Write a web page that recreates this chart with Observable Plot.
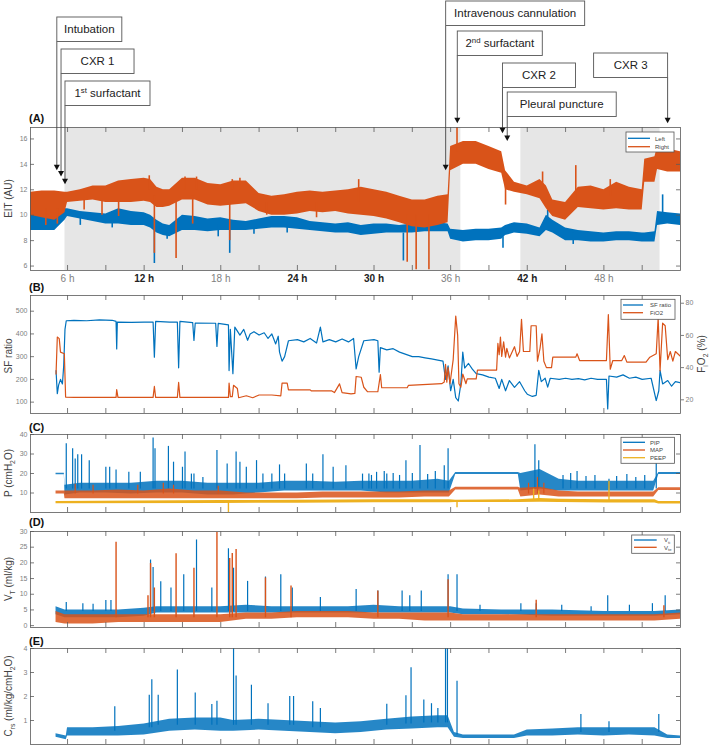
<!DOCTYPE html>
<html><head><meta charset="utf-8">
<script src="https://cdn.jsdelivr.net/npm/d3@7"></script>
<script src="https://cdn.jsdelivr.net/npm/@observablehq/plot@0.6"></script>
<style>
body{margin:0;background:#fff;font-family:"Liberation Sans",Arial,Helvetica,sans-serif}
#wrap{position:relative;width:709px;height:746px;overflow:hidden;background:#fff}
</style></head><body><div id="wrap"></div>
<script>
// ---------------- DATA ----------------
// Panel A: EIT (AU) envelopes per hour
const tA = [3.1,4,5,5.8,6,7,8,9,10,11,12,12.5,13,13.5,14,15,16,17,18,19,20,21,22,23,24,25,26,27,28,29,30,31,32,33,34,35,35.8,36,37,38,39,40,40.3,41,42,43,43.5,44,45,46,47,48,49,50,51,51.2,52,52.2,53,54];
const rightLo = [10.0,9.8,9.6,10.2,11.0,11.1,11.2,11.0,11.0,11.0, 11.1,11.0,10.6,10.6,10.7,11.2,11.2,10.8,10.7,10.8, 10.9,10.3,10.0,10.0,10.1,10.3,10.2,10.3,10.1,10.0, 9.9,9.7,9.4,9.1,9.0,9.2,9.4,13.5,14.0,14.0, 13.6,13.3,12.0,11.8,11.6,11.3,10.5,9.9,9.6,10.6, 10.5,10.4,10.5,10.4,10.4,12.6,12.6,13.6,13.4,13.4];
const rightHi = [11.8,11.9,11.9,11.8,11.8,12.0,12.3,12.3,12.7,12.8, 12.9,12.8,12.2,12.0,12.0,12.9,12.9,12.5,12.4,12.7, 12.7,11.7,11.5,11.6,11.8,11.9,11.8,11.9,12.0,12.2, 12.0,11.8,11.5,11.2,11.2,11.5,11.6,15.4,15.8,15.8, 15.4,15.0,13.5,12.6,12.3,12.8,12.3,11.2,11.0,12.2, 12.3,12.0,12.6,12.2,12.0,14.4,14.6,15.4,15.2,15.0];
const leftLo = [8.8,8.8,8.8,9.6,9.9,9.7,9.5,9.3,9.3,9.2, 9.2,9.0,8.6,8.4,8.3,8.8,8.8,8.7,8.8,8.8, 8.8,8.9,9.0,9.0,8.9,8.8,8.7,8.6,8.6,8.4, 8.5,8.6,8.6,8.6,8.7,8.7,8.7,8.1,7.9,8.0, 8.0,8.1,8.4,8.6,8.5,8.3,8.8,8.6,8.0,8.0, 7.9,7.9,8.0,8.0,7.9,7.9,7.9,9.2,9.3,9.2];
const leftHi = [10.2,10.1,10.0,10.5,10.5,10.3,10.2,10.1,10.5,10.3, 10.2,10.0,9.6,9.3,9.2,10.0,9.9,9.7,9.8,9.6, 9.5,9.7,9.9,9.9,9.8,9.5,9.4,9.3,9.4,9.2, 9.3,9.3,9.2,9.3,9.4,9.4,9.3,8.9,8.8,8.9, 8.9,9.0,9.2,9.4,9.3,9.0,10.0,9.6,9.0,8.8, 8.7,8.6,8.7,8.7,8.6,8.6,8.7,10.3,10.2,10.1];
const rightSpikeT = [4.3,5.2,7.3,8.7,10.0,12.4,12.8,14.5,15.2,15.8,16.1,18.7,18.9,19.5,21.6,25.5,28.8,32.6,33.3,34.3,36.5,40.3,43.2,45.8,48.5];
const rightSpikeFrom = [10.5,10.5,11.2,11.1,11.0,12.0,11.5,11.0,12.0,11.5,12.0,11.0,12.0,12.0,11.0,11.0,11.0,10.0,10.0,10.0,15.0,12.8,12.0,11.0,11.5];
const rightSpikeTo = [9.2,9.3,10.4,10.0,9.9,13.1,7.0,6.6,13.0,9.3,13.0,8.0,12.8,12.9,10.0,9.8,12.8,6.3,5.7,5.7,16.9,10.8,13.4,13.9,12.8];
const leftSpikeT = [7.0,9.5,12.8,13.8,17.8,18.7,20.6,23.2,32.3,40.1,43.6,45.6,52.6];
const leftSpikeFrom = [9.8,9.6,9.0,8.8,9.2,8.8,9.1,9.4,8.6,8.3,9.3,8.6,9.8];
const leftSpikeTo = [9.2,9.0,6.2,8.1,8.3,7.0,8.5,8.6,6.4,7.4,10.4,7.7,11.6];
const shadeStart = [5.8,41.5];
const shadeEnd = [36.8,52.4];

// Events
const eventLabels = ["Intubation","CXR 1","1st surfactant","Intravenous cannulation","2nd surfactant","CXR 2","Pleural puncture","CXR 3"];
const eventTimes = [5.2,5.53,5.84,35.65,36.56,40.1,40.47,53.03];
const eventTipEIT = [13.5,13.0,12.4,13.5,17.2,16.4,15.8,17.2];

// Panel B: SF ratio and FiO2 (%)
const sfRatio = [[5.1,239],[5.2,137],[5.3,175],[5.45,200],[5.6,180],[5.7,260],[5.8,420],[5.9,458],[6.5,460],[7.5,458],[8.5,462],[9.5,460],[9.8,455],[9.85,334],[9.9,452],[11,451],[12,452],[12.7,452],[12.8,298],[12.9,455],[14,452],[14.6,452],[14.7,251],[14.8,455],[15.8,450],[15.9,371],[16.0,448],[17.6,447],[17.7,345],[17.8,446],[18.6,440],[18.65,239],[18.75,420],[18.95,225],[19.1,430],[19.5,395],[19.8,420],[20.1,372],[20.3,400],[20.6,410],[21,395],[21.4,405],[21.7,380],[22.0,400],[22.3,356],[22.5,390],[22.6,320],[22.8,280],[23.0,300],[23.3,370],[24,375],[24.5,365],[25,380],[25.5,360],[25.8,430],[26,365],[26.5,375],[27,365],[27.5,378],[28,365],[28.4,380],[28.6,246],[28.8,300],[29.2,370],[30,375],[30.3,370],[30.4,232],[30.5,340],[31,330],[31.5,335],[32,320],[32.5,310],[33,300],[33.5,300],[34,295],[34.5,290],[35,285],[35.4,280],[35.6,200],[35.8,260],[36.0,150],[36.2,200],[36.4,120],[36.6,105],[36.8,180],[36.95,320],[37.1,250],[37.4,270],[37.7,245],[38,225],[38.5,220],[39,210],[39.5,205],[39.8,160],[40.0,200],[40.3,150],[40.6,195],[41.0,165],[41.4,190],[41.8,150],[42.0,135],[42.4,125],[42.7,130],[42.9,240],[43.1,190],[43.4,205],[43.6,166],[43.8,205],[44.5,200],[45,205],[45.5,200],[46,203],[46.5,198],[47,205],[47.5,200],[48.2,200],[48.3,70],[48.4,215],[49,210],[49.5,220],[50,205],[50.5,210],[51,200],[51.7,205],[52.1,107],[52.3,150],[52.4,240],[52.6,180],[53,195],[53.3,170],[53.6,190],[54,185]];
const fio2 = [[5.1,36],[5.2,59],[5.35,58],[5.45,49.6],[5.75,48.6],[5.85,21.7],[6.5,21.5],[9.8,21.5],[9.85,26.4],[9.95,21.5],[12.7,21.5],[12.8,28.3],[12.9,21.5],[14.6,21.5],[14.7,30.8],[14.8,21.5],[18.6,21.5],[18.65,30.4],[18.75,22],[18.9,22],[19.0,29],[19.3,27],[19.4,21.3],[20,22.5],[20.5,21.3],[21,23],[22,23],[22.7,22.5],[22.8,30.4],[23.2,30.4],[23.3,26.2],[25,26.2],[25.1,25.5],[26.7,25.5],[26.9,24.5],[27.3,29.9],[27.5,24.5],[28.2,23.7],[28.5,24],[28.6,34.5],[29.0,34],[29.2,27.8],[29.5,25],[30.3,25],[30.5,35.7],[30.6,27.5],[32.6,27.5],[32.7,29],[35.3,30],[35.5,31],[35.6,42],[35.7,31],[35.8,40],[35.95,30],[36.2,45],[36.4,72],[36.55,60],[36.65,30],[36.8,27.8],[36.95,36],[37.2,30],[37.3,33],[38,33],[38.1,38.5],[39.6,38.5],[39.7,55],[39.8,48],[39.9,59],[40.0,47],[40.15,56],[40.3,46.5],[40.4,52],[40.6,46],[41,53],[41.2,47],[41.4,50],[41.55,70],[41.7,50],[42.2,50],[42.3,66],[42.7,66],[42.8,44],[43.0,52],[43.15,61],[43.3,44],[43.5,40],[43.9,40],[44.0,46.5],[45.8,46.5],[45.9,48.6],[46.1,44.4],[48.2,44.4],[48.35,73],[48.5,39],[48.7,44.4],[49.4,44.4],[49.6,47.5],[49.8,43.4],[51.3,43.4],[51.6,46.5],[52.1,48.6],[52.25,71],[52.4,38],[52.6,67.6],[52.8,66],[53.0,45],[53.2,50],[53.4,44],[53.6,50],[54,47]];

// Panel C: pressures (cmH2O) envelopes + spikes
const tPIP = [5.1,5.75,5.8,7,9,11,13,15,17,19,21,23,25,27,29,31,33,35,35.9,36.4,41.3,41.5,43,44.5,46,48,50,51.9,52.3,54];
const pipLo = [19.3,19.3,9,10,10,9.5,10,10,9,9,10,11,11,11,11,10,10,10,10,19.5,19.5,11,12,11,11,11,11,11,19.5,19.5];
const pipHi = [20.1,20.1,14,15,15,15,16,16,15,15,15,16,16,15.5,16,16,16,17,16,20.5,20.5,20,22,17,16,16,16,16,20.5,20.5];
const pipSpikeT = [5.9,6.4,6.6,6.8,7.1,7.7,9.0,9.3,9.8,10.8,11.7,12.7,12.85,13.9,14.3,15.0,15.2,15.7,15.9,16.6,17.7,18.5,19.2,19.5,20.0,20.8,21.3,22.0,22.6,23.0,24.7,25.2,26.0,26.8,27.8,29.1,29.6,29.8,30.2,30.8,31.0,31.5,32.0,32.5,33.0,33.6,34.2,34.8,35.5,35.8,42.6,42.9,44.8,45.4,45.9,46.6,47.3,48.4,49.0,49.8,50.5,51.2,52.1];
const pipSpikeV = [35.3,32.7,27.5,29.6,29.6,26.6,23.2,23.2,21.8,20.6,20.6,38.2,32.7,33.9,25.8,23.2,31.0,19.7,19.7,18,31.8,24.9,31.0,25.8,23.2,26.6,19.7,19.7,24.4,19.7,24.9,19.7,29.6,23.2,24.0,19.7,19.7,19,20.6,21,19.7,20,19,26.6,20,34.4,19.5,21,24.0,32.7,34.8,26.6,19,20,21.0,18.5,19,17.0,18.5,19.5,18,19,30.1];
const tMAP = [5.1,5.75,5.8,8,10,12,14,16,18,20,22,24,26,28,30,32,34,35.9,36.4,41.3,41.5,43,44.5,46,48,50,51.9,52.3,54];
const mapLo = [9.5,9.5,7,7,7,7,7,7,7,7,7,7,7.5,7.5,7.5,7.5,8,8,11.5,11.5,8,9,8,8,8,8,8,11.3,11.3];
const mapHi = [11,11,11,11,11.5,11,12,11,11,10,10,10,10.5,10.5,10.5,10.5,11,11,13,13,12.5,13,11,10.5,10.5,10.5,10.5,12.7,12.7];
const mapSpikeT = [6.6,8.0,11.5,13.5,14.3,17.8,42.1,42.8,43.3];
const mapSpikeV = [14.5,14,14,15,14,13.5,15,18,15];
const tPEEP = [5.1,18,24,30,35.9,36.4,41.3,43,44.5,48.3,52,52.3,54];
const peepLo = [4.5,4.6,4.8,5.0,5.0,5.1,5.1,5.2,5.1,4.9,4.9,4.3,4.3];
const peepHi = [5.7,6.1,6.3,6.5,6.5,6.3,6.5,7.2,6.8,6.5,6.5,5.6,5.6];
const peepSpikeT = [18.6,36.5,42.5,42.9,48.4];
const peepSpikeV = [0,2.4,12,11,16];

// Panel D: tidal volumes (ml/kg)
const tD = [5.1,5.8,8,10,12,13,16,18,20,22,24,26,28,30,32,34,36,37,40,44,48,52,54];
const vtiLo = [3.5,2.5,2.5,2.5,3,4,4,4,4,4,4,4,4,4,4,4,4,3.5,3.5,3,3,3,3.5];
const vtiHi = [6,5,5,5,5.5,6,6,6,6.5,6,6,6,6,6.5,6,6,6,5.3,5,5,4.5,4.5,5];
const vteLo = [1,0.5,0.5,1,1,1,1,1,2,2,2.5,2.5,2.5,2,2,1.5,1.5,1.5,1.5,1.5,1.5,1.5,2];
const vteHi = [4.5,3.5,3.5,3.5,3.5,3.5,3.5,3.5,4,4,4.5,4.5,4.5,4,4,4,4,3.5,3.5,3.5,3.5,3.5,4];
const vtiSpikeT = [5.9,7.2,8.0,9.0,9.4,12.5,12.7,13.3,14.1,15.1,16.1,17.3,18.6,19.0,20.1,21.5,22.7,23.6,25.8,28.6,30.3,32.2,32.8,33.7,35.8,36.5,38.3,41.5,42.7,44.7,47.0,48.3,50.0,51.8,52.8];
const vtiSpikeV = [7.4,7.0,6.8,8.0,8.0,20.9,18.5,14,12,16.2,27.3,12,24.5,18.3,14.1,15.5,16.2,12,9,11.5,11,11,9.5,11,16.2,16.2,6.5,7,7,6.5,6,9.5,6.5,7,9.5];
const vteSpikeT = [9.8,12.3,12.5,12.8,14.5,15.9,17.7,18.7,18.9,19.2,21.5,23.5,30.3,35.8,42.7,52.7];
const vteSpikeV = [26.6,9.5,19.8,12,22.9,18.3,29.7,21.4,23.0,24.3,15.2,12.6,11,14.6,8.1,6.3];

// Panel E: compliance
const tE = [5.1,5.9,6,8,10,12,14,16,18,19,21,23,25,27,29,31,33,35,35.8,36.3,37,41,42,44,46,48,50,52,53,54];
const crsLo = [0.3,0.2,0.35,0.35,0.35,0.4,0.55,0.6,0.55,0.55,0.6,0.55,0.5,0.45,0.5,0.6,0.65,0.7,0.7,0.3,0.25,0.25,0.35,0.35,0.4,0.35,0.4,0.35,0.25,0.25];
const crsHi = [0.45,0.35,0.7,0.7,0.75,0.85,1.05,1.1,1.1,1.0,1.05,1.0,0.95,0.9,0.95,1.05,1.15,1.2,1.2,0.5,0.4,0.4,0.6,0.65,0.7,0.7,0.7,0.7,0.4,0.35];
const crsSpikeT = [9.7,12.4,12.6,13.1,14.6,16.0,17.3,17.7,19.0,19.2,20.4,21.7,23.4,23.7,25.2,25.8,31.0,32.5,32.9,33.9,34.5,35.0,35.6,35.75,36.5,46.2,48.4,52.3];
const crsSpikeV = [1.57,2.05,2.7,2.05,3.1,2.15,1.67,1.8,4.0,2.85,2.47,1.7,2.0,2.0,1.78,1.5,1.68,2.03,3.2,1.85,1.7,1.5,4.0,4.0,2.64,1.25,0.95,1.25];
const crsSpikeBase = [0.55,0.7,0.7,0.8,0.8,0.8,0.8,0.8,0.8,0.8,0.8,0.8,0.8,0.8,0.7,0.7,0.8,0.85,0.85,0.9,0.9,0.9,0.9,0.9,0.4,0.5,0.5,0.5];

// Axis ticks
const X_TICKS = [6,9,12,15,18,21,24,27,30,33,36,39,42,45,48,51];
const X_LABELS_NORMAL = [6,18,36,48];
const X_LABELS_BOLD = [12,24,30,42];
const yTicksA = [6,8,10,12,14,16];
const yTicksB = [100,200,300,400,500];
const fTicksB = [20,40,60,80];
const yTicksC = [10,20,30,40];
const yTicksD = [0,5,10,15,20,25,30];
const yTicksE = [1,2,3,4];

// ---------------- STYLE / LAYOUT ----------------
const FONT = '"Liberation Sans", Arial, Helvetica, sans-serif';
const W = 709, ML = 30, MR = 29;
const X_DOMAIN = [3.1, 54];
const BLUE = "#0072BD", ORANGE = "#D95319", YELLOW = "#EDB120";
const FRAME = "#5a5a5a", TICKTXT = "#808080";
const wrap = document.getElementById("wrap");

const band = (t, lo, hi) => t.map((x, i) => ({t: x, lo: lo[i], hi: hi[i]}));
const spikes = (t, to, from) => t.map((x, i) => ({t: x, to: to[i], from: Array.isArray(from) ? from[i] : from}));

function panel({top, mt, ph, mb, yDomain, yTicks, marks, rightTicks = true, extra = []}) {
  const height = mt + ph + mb;
  const [y0, y1] = yDomain, [x0, x1] = X_DOMAIN;
  const pw = W - ML - MR;
  const du = (y1 - y0) / ph, dx = (x1 - x0) / pw;
  const tickStyle = {stroke: FRAME, strokeWidth: 0.8};
  const ticks = [
    Plot.ruleX(X_TICKS, {y1: y0, y2: y0 + 5 * du, ...tickStyle}),
    Plot.ruleX(X_TICKS, {y1: y1 - 5 * du, y2: y1, ...tickStyle}),
    Plot.ruleY(yTicks, {x1: x0, x2: x0 + 4 * dx, ...tickStyle})
  ];
  if (rightTicks) ticks.push(Plot.ruleY(yTicks, {x1: x1 - 4 * dx, x2: x1, ...tickStyle}));
  const p = Plot.plot({
    width: W, height, marginLeft: ML, marginRight: MR, marginTop: mt, marginBottom: mb,
    x: {domain: X_DOMAIN, axis: null},
    y: {domain: yDomain},
    style: {fontFamily: FONT, background: "transparent", overflow: "visible"},
    marks: [
      ...marks,
      ...ticks,
      Plot.axisY(yTicks, {anchor: "left", tickSize: 0, tickPadding: 3, fontSize: 7, color: TICKTXT, label: null}),
      ...extra,
      Plot.frame({stroke: FRAME, strokeWidth: 0.8})
    ]
  });
  p.style.position = "absolute"; p.style.left = "0px"; p.style.top = top + "px";
  wrap.appendChild(p);
  return p;
}

// Panel A
const rowsA = tA.map((t, i) => ({t, llo: leftLo[i], lhi: leftHi[i], rlo: rightLo[i], rhi: rightHi[i]}));
const yDomA = [5.65, 16.9];
const pA = panel({
  top: 0, mt: 127, ph: 143, mb: 20, yDomain: yDomA, yTicks: yTicksA,
  marks: [
    Plot.rect(shadeStart.map((s, i) => ({s, e: shadeEnd[i]})), {x1: "s", x2: "e", y1: yDomA[0], y2: yDomA[1], fill: "#e6e6e6"}),
    Plot.areaY(rowsA, {x: "t", y1: "llo", y2: "lhi", fill: BLUE, clip: true}),
    Plot.ruleX(spikes(leftSpikeT, leftSpikeTo, leftSpikeFrom), {x: "t", y1: "from", y2: "to", stroke: BLUE, strokeWidth: 1.6, clip: true}),
    Plot.areaY(rowsA, {x: "t", y1: "rlo", y2: "rhi", fill: ORANGE, clip: true}),
    Plot.ruleX(spikes(rightSpikeT, rightSpikeTo, rightSpikeFrom), {x: "t", y1: "from", y2: "to", stroke: ORANGE, strokeWidth: 1.6, clip: true})
  ],
  extra: [
    Plot.axisX(X_LABELS_NORMAL, {anchor: "bottom", tickSize: 0, tickPadding: 4, tickFormat: d => d + " h", fontSize: 10, color: TICKTXT, label: null}),
    Plot.axisX(X_LABELS_BOLD, {anchor: "bottom", tickSize: 0, tickPadding: 4, tickFormat: d => d + " h", fontSize: 10, fontWeight: "bold", color: "#222", label: null})
  ]
});

// Panel B
const yDomB = [50, 569], fDom = [11.5, 84.8];
const f2sf = f => yDomB[0] + (f - fDom[0]) / (fDom[1] - fDom[0]) * (yDomB[1] - yDomB[0]);
const sf2f = s => fDom[0] + (s - yDomB[0]) / (yDomB[1] - yDomB[0]) * (fDom[1] - fDom[0]);
panel({
  top: 290, mt: 5, ph: 118, mb: 8, yDomain: yDomB, yTicks: yTicksB, rightTicks: false,
  marks: [
    Plot.line(sfRatio, {x: d => d[0], y: d => d[1], stroke: BLUE, strokeWidth: 1.2, clip: true}),
    Plot.line(fio2, {x: d => d[0], y: d => f2sf(d[1]), stroke: ORANGE, strokeWidth: 1.2, clip: true})
  ],
  extra: [
    Plot.axisY(fTicksB.map(f2sf), {anchor: "right", tickSize: 3, tickPadding: 2, tickFormat: d => Math.round(sf2f(d)), fontSize: 7, color: TICKTXT, label: null})
  ]
});

// Panel C
panel({
  top: 421, mt: 13, ph: 78, mb: 6, yDomain: [0, 40], yTicks: yTicksC,
  marks: [
    Plot.areaY(band(tPIP, pipLo, pipHi), {x: "t", y1: "lo", y2: "hi", fill: BLUE, fillOpacity: 0.85, clip: true}),
    Plot.ruleX(spikes(pipSpikeT, pipSpikeV, 12), {x: "t", y1: "from", y2: "to", stroke: BLUE, strokeWidth: 1.2, clip: true}),
    Plot.areaY(band(tMAP, mapLo, mapHi), {x: "t", y1: "lo", y2: "hi", fill: ORANGE, fillOpacity: 0.85, clip: true}),
    Plot.ruleX(spikes(mapSpikeT, mapSpikeV, 9.5), {x: "t", y1: "from", y2: "to", stroke: ORANGE, strokeWidth: 1.2, clip: true}),
    Plot.areaY(band(tPEEP, peepLo, peepHi), {x: "t", y1: "lo", y2: "hi", fill: YELLOW, clip: true}),
    Plot.ruleX(spikes(peepSpikeT, peepSpikeV, 5.7), {x: "t", y1: "from", y2: "to", stroke: YELLOW, strokeWidth: 1.4, clip: true})
  ]
});

// Panel D
panel({
  top: 518, mt: 13, ph: 96, mb: 8, yDomain: [-0.6, 30], yTicks: yTicksD,
  marks: [
    Plot.areaY(band(tD, vtiLo, vtiHi), {x: "t", y1: "lo", y2: "hi", fill: BLUE, fillOpacity: 0.85, clip: true}),
    Plot.ruleX(spikes(vtiSpikeT, vtiSpikeV, 4.5), {x: "t", y1: "from", y2: "to", stroke: BLUE, strokeWidth: 1.2, clip: true}),
    Plot.areaY(band(tD, vteLo, vteHi), {x: "t", y1: "lo", y2: "hi", fill: ORANGE, fillOpacity: 0.85, clip: true}),
    Plot.ruleX(spikes(vteSpikeT, vteSpikeV, 2.5), {x: "t", y1: "from", y2: "to", stroke: ORANGE, strokeWidth: 1.4, clip: true})
  ]
});

// Panel E
panel({
  top: 635, mt: 13, ph: 96, mb: 2, yDomain: [0, 4], yTicks: yTicksE,
  marks: [
    Plot.areaY(band(tE, crsLo, crsHi), {x: "t", y1: "lo", y2: "hi", fill: BLUE, fillOpacity: 0.85, clip: true}),
    Plot.ruleX(spikes(crsSpikeT, crsSpikeV, crsSpikeBase), {x: "t", y1: "from", y2: "to", stroke: BLUE, strokeWidth: 1.2, clip: true})
  ]
});

// ---------------- OVERLAY: annotations, titles, legends ----------------
const ov = d3.select(wrap).append("svg")
  .attr("width", W).attr("height", 746)
  .style("position", "absolute").style("left", "0px").style("top", "0px")
  .style("font-family", FONT);

function rich(sel, parts, size) {
  let shift = 0;
  parts.forEach(([s, kind]) => {
    const target = kind === "sub" ? size * 0.3 : kind === "sup" ? -size * 0.4 : 0;
    sel.append("tspan").attr("dy", target - shift).attr("font-size", kind ? size * 0.68 : size).text(s);
    shift = target;
  });
}

// Annotations (positions from panel A scales)
const xA = pA.scale("x"), yA = pA.scale("y");
const boxTop = [17, 49, 81, 1, 31, 63, 92, 53];
const boxW = [65, 73, 85, 139, 85, 73, 109, 74];
const boxOnLeft = [false, false, false, false, false, false, false, true];
const labelParts = [
  [["Intubation"]], [["CXR 1"]], [["1"], ["st", "sup"], [" surfactant"]],
  [["Intravenous cannulation"]], [["2"], ["nd", "sup"], [" surfactant"]],
  [["CXR 2"]], [["Pleural puncture"]], [["CXR 3"]]
];
const BOXH = 24.5;
eventLabels.forEach((lab, i) => {
  const x = xA.apply(eventTimes[i]);
  const yTip = yA.apply(eventTipEIT[i]);
  const top = boxTop[i], w = boxW[i];
  const left = boxOnLeft[i] ? x - w : x;
  ov.append("line").attr("x1", x).attr("x2", x).attr("y1", top + BOXH).attr("y2", yTip - 4)
    .attr("stroke", "#444").attr("stroke-width", 0.9);
  ov.append("path").attr("d", `M${x - 3},${yTip - 5.5}L${x + 3},${yTip - 5.5}L${x},${yTip}Z`).attr("fill", "#111");
  ov.append("rect").attr("x", left).attr("y", top).attr("width", w).attr("height", BOXH)
    .attr("fill", "#fff").attr("stroke", "#555").attr("stroke-width", 0.9);
  const t = ov.append("text").attr("x", left + w / 2).attr("y", top + BOXH / 2 + 4)
    .attr("text-anchor", "middle").attr("fill", "#222").attr("font-size", 11.5);
  rich(t, labelParts[i], 11.5);
});

// Panel letters
[["(A)", 122], ["(B)", 291], ["(C)", 431], ["(D)", 526], ["(E)", 645]].forEach(([s, y]) => {
  ov.append("text").attr("x", 29).attr("y", y).attr("font-size", 11).attr("font-weight", "bold").attr("fill", "#111").text(s);
});

// Y titles
function ytitle(parts, cx, cy) {
  const t = ov.append("text").attr("transform", `translate(${cx},${cy}) rotate(-90)`)
    .attr("text-anchor", "middle").attr("fill", "#444").attr("font-size", 10);
  rich(t, parts, 10);
}
ytitle([["EIT (AU)"]], 12, 198.5);
ytitle([["SF ratio"]], 12, 356);
ytitle([["P (cmH"], ["2", "sub"], ["O)"]], 12, 473);
ytitle([["V"], ["T", "sub"], [" (ml/kg)"]], 12, 579);
ytitle([["C"], ["rs", "sub"], [" (ml/kg/cmH"], ["2", "sub"], ["O)"]], 12, 696);
ytitle([["F"], ["i", "sub"], ["O"], ["2", "sub"], [" (%)"]], 704.5, 354);

// Legends
function legend(x, y, w, h, lx1, lx2, tx, rows) {
  ov.append("rect").attr("x", x).attr("y", y).attr("width", w).attr("height", h)
    .attr("fill", "#fff").attr("stroke", "#555").attr("stroke-width", 0.8);
  rows.forEach(([color, parts, ry]) => {
    ov.append("line").attr("x1", lx1).attr("x2", lx2).attr("y1", ry).attr("y2", ry).attr("stroke", color).attr("stroke-width", 1.3);
    const t = ov.append("text").attr("x", tx).attr("y", ry + 2.2).attr("font-size", 6).attr("fill", "#444");
    rich(t, parts, 6);
  });
}
legend(626, 132, 48, 20, 628, 650, 655, [[BLUE, [["Left"]], 138.3], [ORANGE, [["Right"]], 146.7]]);
legend(621, 299.3, 54, 20, 623, 643, 650, [[BLUE, [["SF ratio"]], 305], [ORANGE, [["FiO2"]], 312.7]]);
legend(621, 437.3, 53.5, 26, 623, 645, 650, [[BLUE, [["PIP"]], 442.3], [ORANGE, [["MAP"]], 450], [YELLOW, [["PEEP"]], 457.7]]);
legend(631.7, 535, 42.6, 18.3, 634, 656.7, 664, [[BLUE, [["V"], ["ti", "sub"]], 540], [ORANGE, [["V"], ["te", "sub"]], 547.3]]);
</script></body></html>
